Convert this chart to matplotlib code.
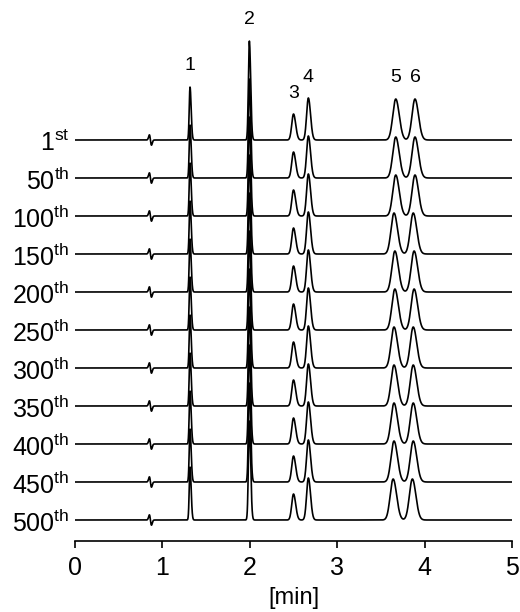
import numpy as np
import matplotlib
matplotlib.use('Agg')
import matplotlib.pyplot as plt
from matplotlib.transforms import ScaledTranslation

plt.rcParams['font.family'] = 'Liberation Sans'
plt.rcParams['mathtext.fontset'] = 'custom'
plt.rcParams['mathtext.rm'] = 'Liberation Sans'

# injection number of each trace (top to bottom)
runs = ['1', '50', '100', '150', '200', '250', '300', '350', '400', '450', '500']
suffix = ['st'] + ['th'] * 10

# peaks 1-6: retention time [min], height, left/right width
peak_names = ['1', '2', '3', '4', '5', '6']
rt_fixed = [1.316, 1.995, 2.50, 2.67]
rt5 = [3.67, 3.67, 3.67, 3.65, 3.66, 3.66, 3.65, 3.65, 3.65, 3.65, 3.64]
rt6 = [3.89, 3.89, 3.89, 3.87, 3.88, 3.88, 3.87, 3.87, 3.87, 3.87, 3.86]
heights = [53, 99, 26, 42, 41, 41]
sig_left = [0.009, 0.011, 0.020, 0.020, 0.034, 0.034]
sig_right = [0.013, 0.015, 0.025, 0.025, 0.040, 0.040]

# small injection disturbance
dist_t = 0.863
dist_amp = 8.5
dist_w = 0.012

t = np.linspace(0, 5, 3000)
step = 38
base0 = 401


def trace(times):
    y = np.zeros_like(t)
    for rt, h, sl, sr in zip(times, heights, sig_left, sig_right):
        s = np.where(t < rt, sl, sr)
        y += h * np.exp(-0.5 * ((t - rt) / s) ** 2)
    u = (t - dist_t) / dist_w
    y += -dist_amp * u * np.exp(-0.5 * u ** 2)
    return y


fig = plt.figure(figsize=(5.2, 6.12), dpi=100)
ax = fig.add_axes([75 / 520, 71 / 612, 437 / 520, 541 / 612])

shift = ScaledTranslation(0, -3 / 100, fig.dpi_scale_trans)
for i, r in enumerate(runs):
    times = rt_fixed + [rt5[i], rt6[i]]
    b = base0 - i * step
    ax.plot(t, b + trace(times), color='black', lw=1.2)
    ax.text(-0.06, b, r + r'$^{\mathrm{' + suffix[i] + '}}$', ha='right',
            va='center', fontsize=18, transform=ax.transData + shift)

# peak numbers above the first trace
first = rt_fixed + [rt5[0], rt6[0]]
for name, rt, h in zip(peak_names, first, heights):
    ax.text(rt, base0 + h + 21, name, ha='center', va='center', fontsize=14)

ax.set_xlim(0, 5)
ax.set_ylim(0, 541)
ax.set_xticks([0, 1, 2, 3, 4, 5])
ax.set_yticks([])
for sp in ['left', 'right', 'top']:
    ax.spines[sp].set_visible(False)
ax.spines['bottom'].set_linewidth(1.2)
ax.tick_params(axis='x', direction='out', length=5, width=1.2, labelsize=18, pad=6)
ax.set_xlabel('[min]', fontsize=17, labelpad=5)

fig.savefig('out.png', dpi=100)
